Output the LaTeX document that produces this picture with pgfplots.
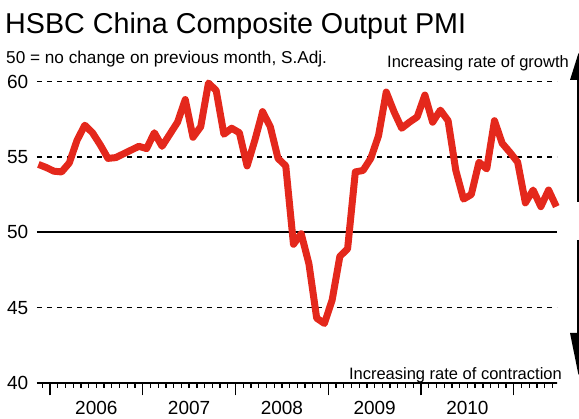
\documentclass[border=0pt]{standalone}
\usepackage{fontspec}
\setmainfont{Liberation Sans}
\usepackage{pgfplots}
\pgfplotsset{compat=1.18}
\definecolor{pmired}{RGB}{228,40,28}

\begin{document}
\begin{tikzpicture}[x=1pt,y=1pt]
\path[use as bounding box] (0,0) rectangle (579,419);
\begin{axis}[
  at={(37pt,36pt)}, anchor=south west,
  scale only axis, width=520pt, height=301.5pt,
  xmin=-0.18, xmax=67.09, ymin=40, ymax=60,
  clip=false,
  axis lines*=left,
  y axis line style={draw=none},
  x axis line style={line width=1.6pt},
  tick align=outside,
  xtick={1.5,13.5,25.5,37.5,49.5,61.5},
  xticklabels={},
  xminorticks=true,
  minor xtick={0.5,2.5,3.5,4.5,5.5,6.5,7.5,8.5,9.5,10.5,11.5,12.5,14.5,15.5,16.5,17.5,18.5,19.5,20.5,21.5,22.5,23.5,24.5,26.5,27.5,28.5,29.5,30.5,31.5,32.5,33.5,34.5,35.5,36.5,38.5,39.5,40.5,41.5,42.5,43.5,44.5,45.5,46.5,47.5,48.5,50.5,51.5,52.5,53.5,54.5,55.5,56.5,57.5,58.5,59.5,60.5,62.5,63.5,64.5,65.5,66.5},
  major tick length=12.5pt, minor tick length=5pt,
  x tick style={black, line width=1.3pt},
  minor tick style={black, line width=1pt},
  y tick style={draw=none},
  extra x ticks={7.5,19.5,31.5,43.5,55.5},
  extra x tick labels={2006,2007,2008,2009,2010},
  extra x tick style={major tick length=0pt, tick label style={yshift=-14.5pt}},
  ytick={40,45,55,60},
  ymajorgrids,
  major grid style={black, line width=1.4pt, dash pattern=on 5pt off 5pt},
  extra y ticks={50},
  extra y tick style={grid=major, major grid style={black, solid, line width=1.5pt}},
  tick label style={font=\fontsize{19}{19}\selectfont},
  /pgf/number format/assume math mode=true,
  yticklabel style={anchor=east, inner sep=0pt, xshift=4pt},
]
\addplot[pmired, line width=7pt, line join=round] coordinates {
  (0,54.5) (1,54.3) (2,54.05) (3,54.0) (4,54.6) (5,56.1) (6,57.1) (7,56.6)
  (8,55.8) (9,54.9) (10,54.95) (11,55.2) (12,55.45) (13,55.7) (14,55.55) (15,56.6)
  (16,55.7) (17,56.5) (18,57.3) (19,58.8) (20,56.3) (21,57.0) (22,59.9) (23,59.4)
  (24,56.5) (25,56.9) (26,56.6) (27,54.4) (28,56.1) (29,58.0) (30,57.0) (31,54.9)
  (32,54.4) (33,49.2) (34,49.9) (35,47.9) (36,44.3) (37,43.95) (38,45.5) (39,48.4)
  (40,48.9) (41,54.0) (42,54.1) (43,54.9) (44,56.4) (45,59.3) (46,58.0) (47,56.9)
  (48,57.3) (49,57.65) (50,59.1) (51,57.3) (52,58.1) (53,57.4) (54,54.1) (55,52.2)
  (56,52.5) (57,54.65) (58,54.2) (59,57.4) (60,55.9) (61,55.3) (62,54.65) (63,51.95)
  (64,52.8) (65,51.7) (66,52.8) (67,51.7)
};
\end{axis}
\node[anchor=base west, inner sep=0pt, font=\fontsize{28.7}{32}\selectfont] at (5,385) {HSBC China Composite Output PMI};
\node[anchor=base west, inner sep=0pt, font=\fontsize{17.2}{20}\selectfont] at (6,355) {50 = no change on previous month, S.Adj.};
\node[anchor=base east, inner sep=0pt, font=\fontsize{16.5}{20}\selectfont] at (569,351) {Increasing rate of growth};
\node[anchor=base east, inner sep=0pt, font=\fontsize{16.5}{20}\selectfont] at (562,39) {Increasing rate of contraction};
% arrows on the right edge
\fill (570,339) -- (578.5,366) -- (587,339) -- cycle;
\draw[line width=2pt] (577.5,340) -- (577.5,217);
\draw[line width=2pt] (577.5,179) -- (577.5,85);
\fill (570,86) -- (578.5,44) -- (587,86) -- cycle;
\end{tikzpicture}
\end{document}
